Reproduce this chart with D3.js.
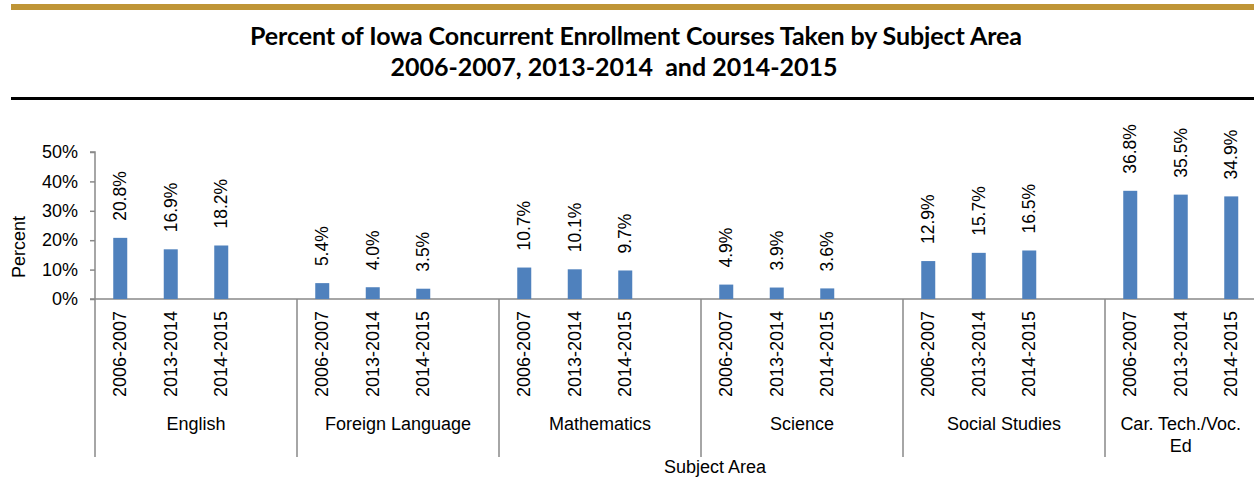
<!DOCTYPE html>
<html>
<head>
<meta charset="utf-8">
<script src="https://cdn.jsdelivr.net/npm/d3@7"></script>
<style>
  body { margin: 0; background: #fff; }
  svg { display: block; }
  text { font-family: "Liberation Sans", Arial, sans-serif; fill: #000; }
</style>
</head>
<body>
<div id="chart"></div>
<script>
const subjects = ['English', 'Foreign Language', 'Mathematics', 'Science', 'Social Studies', 'Car. Tech./Voc. Ed'];
const years = ['2006-2007', '2013-2014', '2014-2015'];
const pct2006 = [20.8, 5.4, 10.7, 4.9, 12.9, 36.8];
const pct2013 = [16.9, 4.0, 10.1, 3.9, 15.7, 35.5];
const pct2014 = [18.2, 3.5, 9.7, 3.6, 16.5, 34.9];
const yTicks = [0, 10, 20, 30, 40, 50];

const seriesByYear = [pct2006, pct2013, pct2014];

const width = 1254;
const height = 479;
const plotLeft = 95;
const plotRight = 1256.5;
const plotTop = 152;
const plotBottom = 299;

// slots: three years per subject, plus an empty spacer between subjects
var slots = [];
subjects.forEach(function(s, i) {
    years.forEach(function(y) { slots.push(s + '|' + y); });
    if (i < subjects.length - 1) slots.push(s + '|gap');
});

var bars = [];
subjects.forEach(function(s, i) {
    years.forEach(function(y, j) {
        bars.push({subject: s, year: y, value: seriesByYear[j][i]});
    });
});

const xScale = d3.scaleBand()
                 .domain(slots)
                 .range([plotLeft, plotRight]);

const yScale = d3.scaleLinear()
                 .domain([0, 50])
                 .range([plotBottom, plotTop]);

const svg = d3.select('#chart')
              .append('svg')
                .attr('width', width)
                .attr('height', height);

// top gold rule and black rule
svg.append('rect').attr('x', 11).attr('y', 4).attr('width', width - 11).attr('height', 6).attr('fill', '#bf9536');
svg.append('rect').attr('x', 11).attr('y', 97).attr('width', width - 11).attr('height', 3).attr('fill', '#000');

// title
const title = svg.append('text')
                 .attr('x', 636)
                 .attr('text-anchor', 'middle')
                 .style('font-family', 'Lato, "Open Sans", sans-serif')
                 .style('font-weight', 'bold')
                 .style('font-size', '25px');
title.append('tspan').attr('x', 636).attr('y', 45).attr('textLength', 772).text('Percent of Iowa Concurrent Enrollment Courses Taken by Subject Area');
title.append('tspan').attr('x', 614).attr('y', 76).attr('xml:space', 'preserve').text('2006-2007, 2013-2014  and 2014-2015');

// y-axis
const yAxis = svg.append('g')
                 .attr('transform', `translate(${plotLeft}, 0)`)
                 .call(d3.axisLeft(yScale).tickValues(yTicks).tickSize(5).tickPadding(12).tickFormat(d => d + '%'));
yAxis.selectAll('line, path').attr('stroke', '#898989').attr('stroke-width', 1.5);
yAxis.select('path').attr('d', `M-5,${plotTop}H0V${plotBottom}`);
yAxis.selectAll('text').style('font-size', '18px').style('font-family', '"Liberation Sans", Arial, sans-serif').attr('fill', '#000');

svg.append('text')
   .attr('transform', 'translate(25, 247) rotate(-90)')
   .attr('text-anchor', 'middle')
   .style('font-size', '18px')
   .text('Percent');

// bottom axis line
svg.append('line')
   .attr('x1', plotLeft - 5).attr('x2', plotRight)
   .attr('y1', plotBottom).attr('y2', plotBottom)
   .attr('stroke', '#898989').attr('stroke-width', 1.5);

// group separators
subjects.forEach(function(s) {
    var x0 = xScale(s + '|' + years[0]);
    svg.append('line')
       .attr('x1', x0).attr('x2', x0)
       .attr('y1', plotBottom).attr('y2', 457)
       .attr('stroke', '#898989').attr('stroke-width', 1.5);
});

// bars
const barW = 14;
svg.selectAll('rect.bar')
   .data(bars)
   .enter()
     .append('rect')
       .attr('class', 'bar')
       .attr('x', d => xScale(d.subject + '|' + d.year) + xScale.bandwidth() / 2 - barW / 2)
       .attr('y', d => yScale(d.value))
       .attr('width', barW)
       .attr('height', d => plotBottom - yScale(d.value))
       .attr('fill', '#4f81bd');

// value labels
svg.selectAll('text.val')
   .data(bars)
   .enter()
     .append('text')
       .attr('class', 'val')
       .attr('transform', d => `translate(${xScale(d.subject + '|' + d.year) + xScale.bandwidth() / 2 + 6}, ${yScale(d.value) - 17}) rotate(-90)`)
       .attr('text-anchor', 'start')
       .style('font-size', '17.5px')
       .text(d => d.value.toFixed(1) + '%');

// year labels
svg.selectAll('text.yr')
   .data(bars)
   .enter()
     .append('text')
       .attr('class', 'yr')
       .attr('transform', d => `translate(${xScale(d.subject + '|' + d.year) + xScale.bandwidth() / 2 + 6}, 311) rotate(-90)`)
       .attr('text-anchor', 'end')
       .style('font-size', '18px')
       .text(d => d.year);

// subject labels
subjects.forEach(function(s, i) {
    var x0 = xScale(s + '|' + years[0]);
    var x1 = i < subjects.length - 1 ? xScale(s + '|gap') + xScale.bandwidth() : plotRight;
    var cx = (x0 + x1) / 2;
    var lines = s === 'Car. Tech./Voc. Ed' ? ['Car. Tech./Voc.', 'Ed'] : [s];
    lines.forEach(function(l, k) {
        svg.append('text')
           .attr('x', cx)
           .attr('y', 430 + k * 22)
           .attr('text-anchor', 'middle')
           .style('font-size', '18px')
           .text(l);
    });
});

svg.append('text')
   .attr('x', 715)
   .attr('y', 473)
   .attr('text-anchor', 'middle')
   .style('font-size', '18px')
   .text('Subject Area');
</script>
</body>
</html>
